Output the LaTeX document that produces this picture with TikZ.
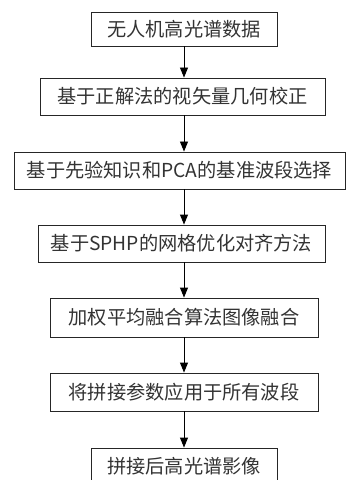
\documentclass[tikz,border=0pt]{standalone}
\usepackage{fontspec}
\setmainfont{Noto Sans CJK SC}
\usetikzlibrary{arrows.meta}
\begin{document}
\begin{tikzpicture}[x=1bp,y=-1bp,
  box/.style={draw=black!85, line width=0.9bp, inner sep=0pt, font=\fontsize{19.3}{21}\selectfont, text=black!80},
  arr/.style={-{Triangle[width=8bp,length=10bp]}, line width=0.9bp}]
\useasboundingbox (0,0) rectangle (347,480);
\node[box, minimum width=186bp, minimum height=34bp] (b1) at (184,29) {无人机高光谱数据};
\node[box, minimum width=285bp, minimum height=37bp] (b2) at (182.5,96.5) {基于正解法的视矢量几何校正};
\node[box, minimum width=331bp, minimum height=37bp] (b3) at (179.5,170.5) {基于先验知识和PCA的基准波段选择};
\node[box, minimum width=287bp, minimum height=37bp] (b4) at (181.5,243.5) {基于SPHP的网格优化对齐方法};
\node[box, minimum width=268bp, minimum height=39bp] (b5) at (184,317.5) {加权平均融合算法图像融合};
\node[box, minimum width=268bp, minimum height=38bp] (b6) at (184,392) {将拼接参数应用于所有波段};
\node[box, minimum width=186bp, minimum height=36bp] (b7) at (184,466) {拼接后高光谱影像};
\draw[arr] (b1.south) -- (b1.south |- b2.north);
\draw[arr] (b1.south |- b2.south) -- (b1.south |- b3.north);
\draw[arr] (b1.south |- b3.south) -- (b1.south |- b4.north);
\draw[arr] (b1.south |- b4.south) -- (b1.south |- b5.north);
\draw[arr] (b1.south |- b5.south) -- (b1.south |- b6.north);
\draw[arr] (b1.south |- b6.south) -- (b1.south |- b7.north);
\end{tikzpicture}
\end{document}
